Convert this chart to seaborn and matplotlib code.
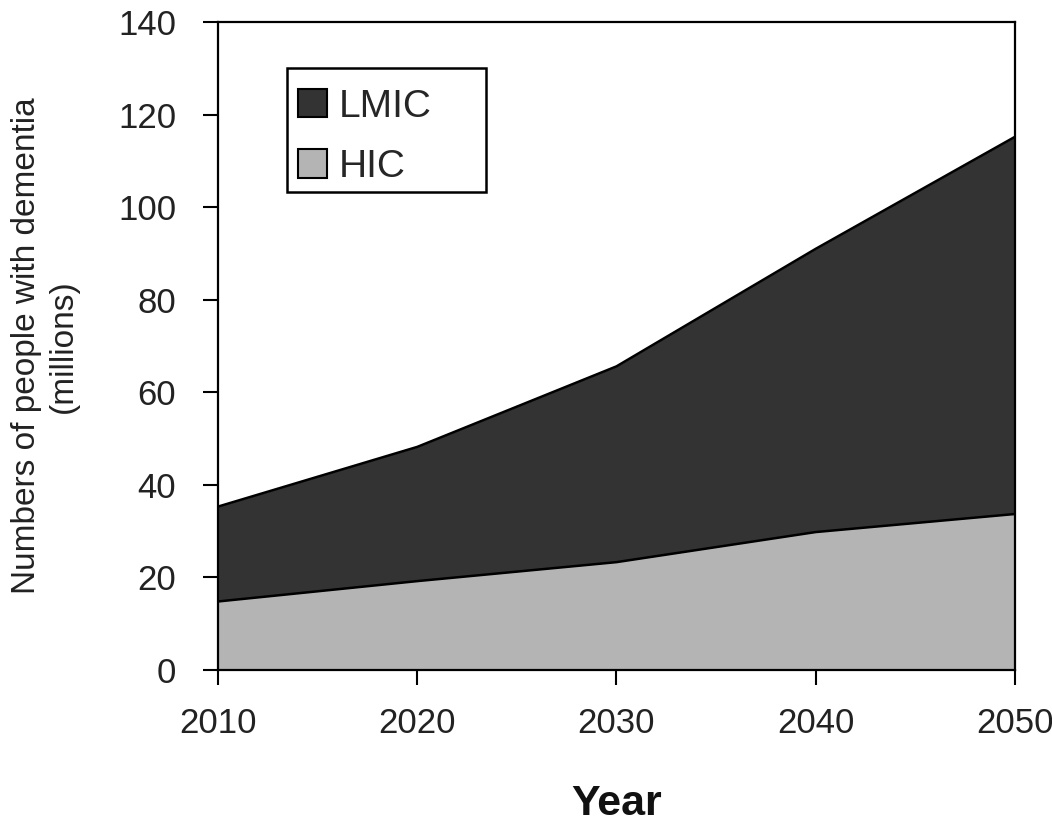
import numpy as np
import pandas as pd
import matplotlib
matplotlib.use("Agg")
import matplotlib.pyplot as plt
import seaborn as sns
from matplotlib.patches import Patch, Rectangle

# values (millions)
years = [2010, 2020, 2030, 2040, 2050]
hic = [14.8, 19.2, 23.3, 29.8, 33.7]
lmic = [20.5, 29.0, 42.3, 61.2, 81.5]
series_names = ["LMIC", "HIC"]
y_ticks = [0, 20, 40, 60, 80, 100, 120, 140]

df = pd.DataFrame({"year": years, "HIC": hic, "LMIC": lmic})
df["total"] = df["HIC"] + df["LMIC"]

sns.set_style("white")
plt.rcParams["font.family"] = ["Liberation Sans", "DejaVu Sans"]

dark = "#333333"
light = "#b4b4b4"

fig = plt.figure(figsize=(10.52, 8.25), dpi=100)
ax = fig.add_axes([0.2072, 0.1879, 0.7576, 0.7854])

ax.fill_between(df["year"], 0, df["HIC"], color=light, lw=0, zorder=1)
ax.fill_between(df["year"], df["HIC"], df["total"], color=dark, lw=0, zorder=1)
sns.lineplot(data=df, x="year", y="total", color="black", lw=1.8, ax=ax, zorder=2)
sns.lineplot(data=df, x="year", y="HIC", color="black", lw=1.8, ax=ax, zorder=2)

ax.set_xlim(2010, 2050)
ax.set_ylim(0, 140)
ax.set_xticks(years)
ax.set_yticks(y_ticks)

for s in ax.spines.values():
    s.set_visible(True)
    s.set_color("black")
    s.set_linewidth(1.6)
ax.tick_params(axis="both", direction="out", length=11, width=1.5,
               bottom=True, left=True, color="black", labelsize=25,
               labelcolor="#222222")
ax.tick_params(axis="y", pad=19)
ax.tick_params(axis="x", pad=16)

ax.set_xlabel("Year", fontsize=31, fontweight="bold", labelpad=31, color="#111111")
ax.set_ylabel("Numbers of people with dementia\n(millions)", fontsize=24,
              labelpad=28, linespacing=1.25, color="#222222")

# legend frame as in the original figure
ax.add_patch(Rectangle((0.0866, 0.7377), 0.2497, 0.1913, transform=ax.transAxes,
                       fill=False, lw=1.8, edgecolor="black", zorder=5))
handles = [Patch(facecolor=dark, edgecolor="black", lw=1.5),
           Patch(facecolor=light, edgecolor="black", lw=1.5)]
ax.legend(handles, series_names, loc="upper left", bbox_to_anchor=(0.1, 0.897),
          frameon=False, fontsize=28, borderpad=0, borderaxespad=0,
          handlelength=0.75, handleheight=0.75, handletextpad=0.3,
          labelspacing=0.62)

fig.savefig("out.png", dpi=100)
